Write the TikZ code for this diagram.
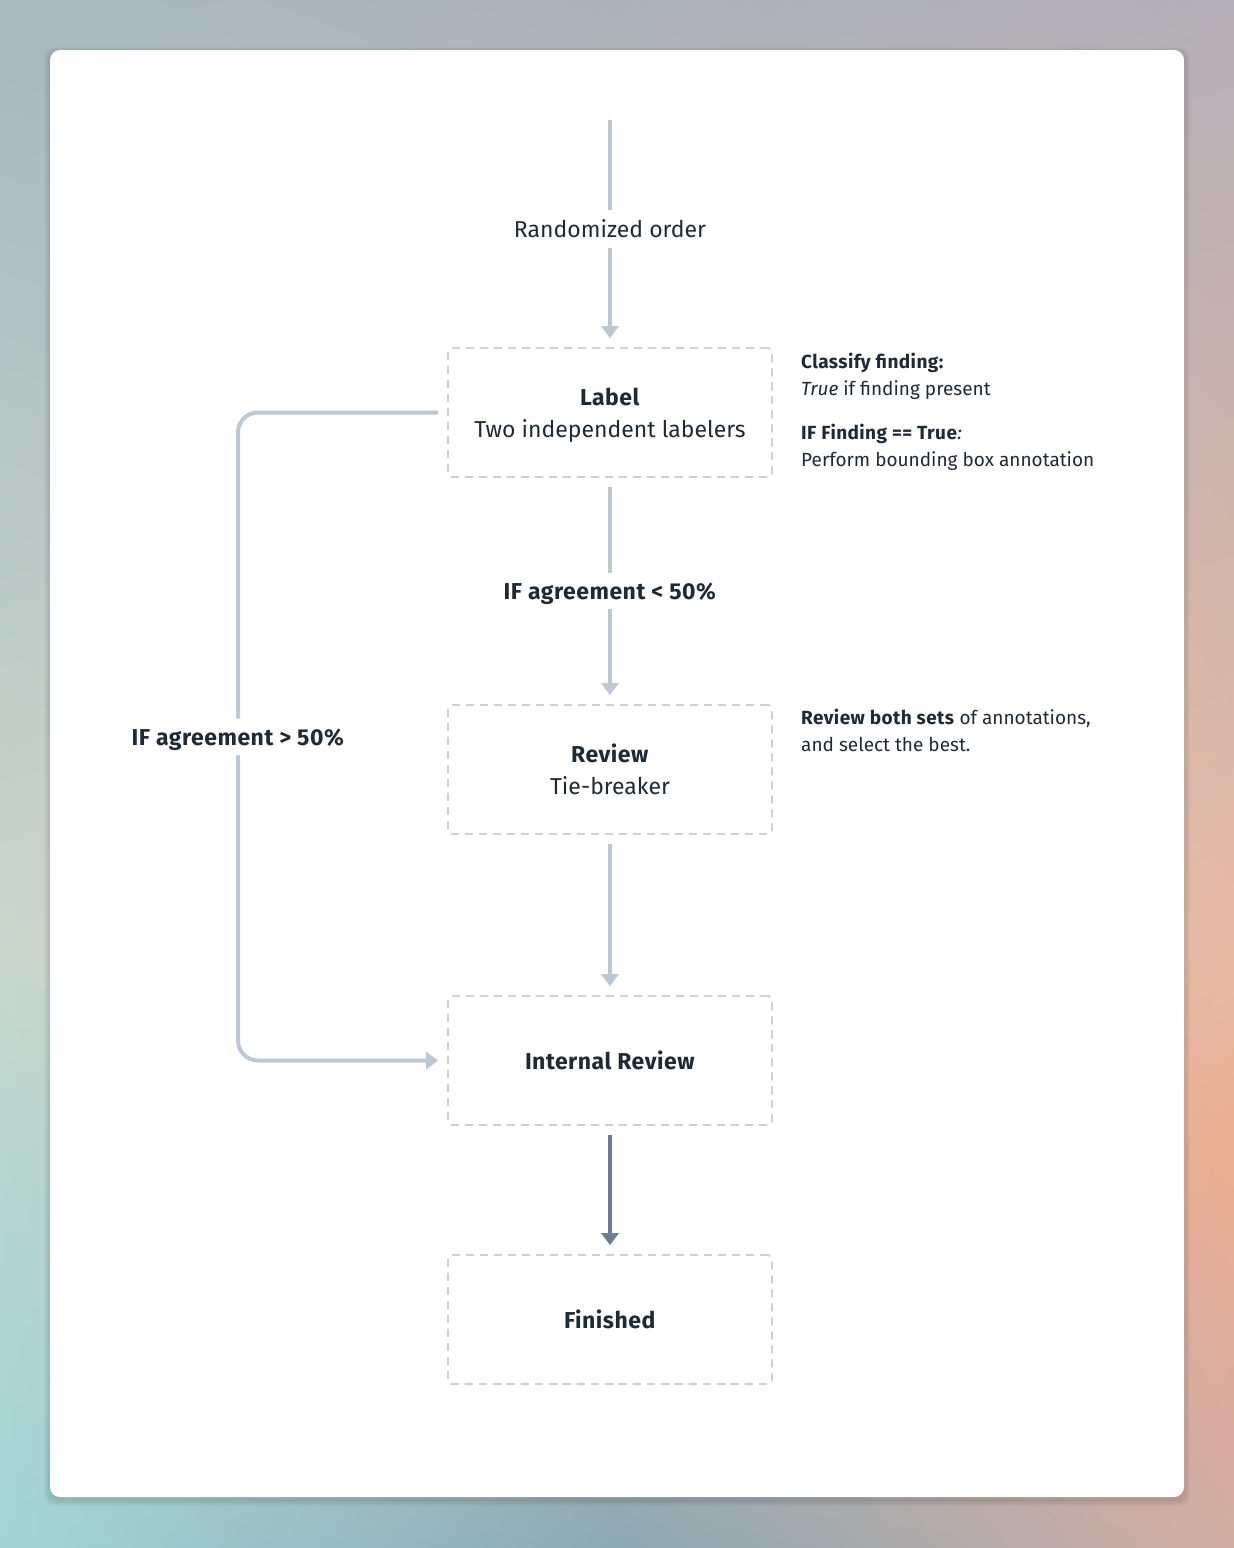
\documentclass[tikz,border=0pt]{standalone}
\usepackage{fontspec}
\setmainfont{Fira Sans}[BoldFeatures={LetterSpace=2.2}]
\usetikzlibrary{arrows.meta}
\usetikzlibrary{shadings}

\definecolor{inkdark}{HTML}{1F2A37}
\definecolor{flowline}{HTML}{BCC8D4}
\definecolor{finalline}{HTML}{6E7D8B}
\definecolor{boxline}{HTML}{C9D1DA}
% backdrop colours, by row (top, 950, 1150, bottom) and column (left, middle, right)
\definecolor{bgAa}{HTML}{A9B8BF}\definecolor{bgAb}{HTML}{ADB2BA}\definecolor{bgAc}{HTML}{B5AFB7}
\definecolor{bgBa}{HTML}{C9D6CC}\definecolor{bgBb}{HTML}{D5C9BC}\definecolor{bgBc}{HTML}{E6B9A3}
\definecolor{bgCa}{HTML}{B7D6D0}\definecolor{bgCb}{HTML}{C5BDB4}\definecolor{bgCc}{HTML}{EBAE92}
\definecolor{bgDa}{HTML}{A4D5D5}\definecolor{bgDb}{HTML}{8CA9B3}\definecolor{bgDc}{HTML}{D2ADA4}

\begin{document}
\begin{tikzpicture}[x=1pt,y=-1pt,
        stepbox/.style={draw=boxline, line width=1.8pt, dash pattern=on 8pt off 6pt,
            rounded corners=4pt, minimum width=324pt, minimum height=129pt, text depth=0pt,
            align=center, text=inkdark, font=\fontsize{23}{32}\selectfont},
        flowtext/.style={inner sep=1pt, text depth=0pt, text=inkdark, font=\fontsize{23}{32}\selectfont},
        notetext/.style={inner sep=0pt, anchor=base west, align=left, text=inkdark,
            font=\fontsize{19}{27}\selectfont},
        flow/.style={draw=flowline, line width=4pt, shorten <=9pt, shorten >=9pt},
        tip/.style={-{Triangle[length=12pt,width=17pt]}}]
        \useasboundingbox (0,0) rectangle (1234,1548);

        % Draw the backdrop
        \shade[upper left=bgAa, upper right=bgAb, lower left=bgBa, lower right=bgBb] (0,0) rectangle (618,951);
        \shade[upper left=bgAb, upper right=bgAc, lower left=bgBb, lower right=bgBc] (617,0) rectangle (1234,951);
        \shade[upper left=bgBa, upper right=bgBb, lower left=bgCa, lower right=bgCb] (0,950) rectangle (618,1151);
        \shade[upper left=bgBb, upper right=bgBc, lower left=bgCb, lower right=bgCc] (617,950) rectangle (1234,1151);
        \shade[upper left=bgCa, upper right=bgCb, lower left=bgDa, lower right=bgDb] (0,1150) rectangle (618,1548);
        \shade[upper left=bgCb, upper right=bgCc, lower left=bgDb, lower right=bgDc] (617,1150) rectangle (1234,1548);

        % Draw the card and its shadow
        \foreach \s in {1,...,6}
            \fill[black, opacity=0.02, rounded corners=10pt] (50-\s,50-\s+3) rectangle (1184+\s,1497+\s+3);
        \fill[white, rounded corners=10pt] (50,50) rectangle (1184,1497);

        % Draw the boxes
        \node[stepbox] (label) at (610,412.5) {\textbf{Label}\\Two independent labelers};
        \node[stepbox] (review) at (610,769.5) {\textbf{Review}\\Tie-breaker};
        \node[stepbox] (internal) at (610,1060.5) {\textbf{Internal Review}};
        \node[stepbox] (finished) at (610,1319.5) {\textbf{Finished}};

        % Label the connectors
        \coordinate (entry) at (610,111);
        \node[flowtext] (order) at (610,229) {Randomized order};
        \node[flowtext] (agreelow) at (610,591) {\textbf{IF agreement < 50\%}};
        \node[flowtext] (agreehigh) at (238,737) {\textbf{IF agreement > 50\%}};

        % Notes beside the boxes
        \node[notetext] (labelnote) at (801,466) {\textbf{Classify finding:}\\
            \textit{True} if finding present\\[17pt]
            \textbf{IF Finding == True}\textit{:}\\
            Perform bounding box annotation};
        \node[notetext] (reviewnote) at (801,751) {\textbf{Review both sets} of annotations,\\
            and select the best.};

        % Draw the main line down
        \draw[flow] (entry) -- (order);
        \draw[flow, tip] (order) -- (label);
        \draw[flow] (label) -- (agreelow);
        \draw[flow, tip] (agreelow) -- (review);
        \draw[flow, tip] (review) -- (internal);
        \draw[flow, tip, draw=finalline, fill=finalline] (internal) -- (finished);

        % Draw the loop round the review
        \draw[flow, rounded corners=20pt] (label.west) -| (agreehigh.north);
        \draw[flow, tip, rounded corners=20pt] (agreehigh.south) |- (internal.west);
    \end{tikzpicture}
\end{document}
